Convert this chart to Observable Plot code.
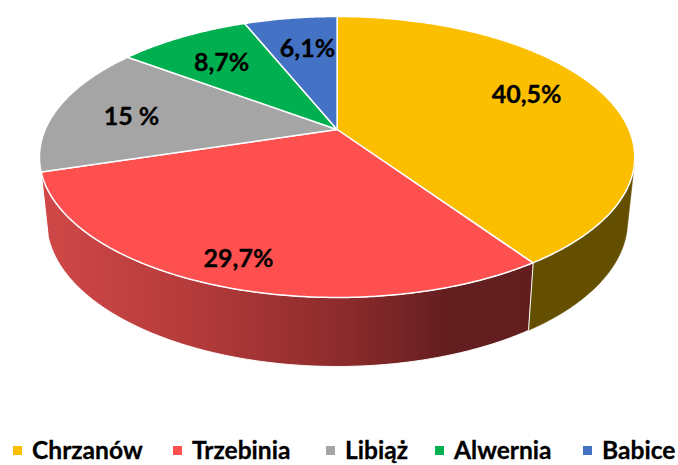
<!DOCTYPE html>
<html lang="pl">
<head>
<meta charset="utf-8">
<script src="https://cdn.jsdelivr.net/npm/d3@7"></script>
<script src="https://cdn.jsdelivr.net/npm/@observablehq/plot@0.6"></script>
<style>
  html, body { margin: 0; padding: 0; background: #fff; overflow: hidden; }
  svg { display: block; }
  #legend { position: relative; height: 30px; width: 678px; font: 700 24.6px/30px Lato, sans-serif; color: #000; white-space: nowrap; -webkit-text-stroke: 0.3px #000; }
  #legend .item { position: absolute; top: 0; display: flex; align-items: center; }
  #legend .swatch { width: 9px; height: 9px; margin-right: 10px; }
</style>
</head>
<body>
<div id="chart"></div>
<div id="legend"></div>
<script>
// Data
const names = ["Chrzanów", "Trzebinia", "Libiąż", "Alwernia", "Babice"];
const shares = [40.5, 29.7, 15, 8.7, 6.1];
const labels = ["40,5%", "29,7%", "15 %", "8,7%", "6,1%"];
const colors = ["#FBBF00", "#FF5050", "#A5A5A5", "#00B050", "#4472C4"];

// Layout (disc coordinates of the labels, perspective and legend placement)
const labelU = [0.685, -0.285, -0.719, -0.439, -0.115];
const labelV = [0.281, -0.799, 0.106, 0.558, 0.689];
const legendLeft = [13, 173, 326, 435, 583];
const persp = 0.1957, baseScaleX = 0.976, baseScaleY = 1.036, baseDrop = 0.466;
const wallStart = 105; // first visible degree of the side wall

const total = d3.sum(shares);
const ends = d3.cumsum(shares).map(d => d / total * 360);
const starts = [0, ...ends.slice(0, -1)];
const rad = d => d * Math.PI / 180;
const top3d = (u, v) => { const w = 1 + persp * v; return [u / w, v / w]; };
const base3d = (u, v) => { const [x, y] = top3d(u, v); return [x * baseScaleX, y * baseScaleY - baseDrop]; };
const onTop = a => top3d(Math.sin(rad(a)), Math.cos(rad(a)));
const onBase = a => base3d(Math.sin(rad(a)), Math.cos(rad(a)));
const arc = (a0, a1) => { const n = Math.max(2, Math.ceil((a1 - a0) / 0.5)); return d3.range(n + 1).map(i => a0 + (a1 - a0) * i / n); };

const slices = names.flatMap((name, i) => [
  [0, 0],
  ...arc(starts[i], ends[i]).map(onTop)
].map(([x, y]) => ({name, x, y})));

const wall = (id, a0, a1) => [
  ...arc(a0, a1).map(onTop),
  ...arc(a0, a1).reverse().map(onBase)
].map(([x, y]) => ({id, x, y}));
const wallYellow = wall("yellow", wallStart, ends[0]);
const wallRed = wall("red", ends[0], ends[1]);

const labelData = labels.map((text, i) => {
  const [x, y] = top3d(labelU[i], labelV[i]);
  return {text, x, y};
});

const gradient = () => {
  const ns = "http://www.w3.org/2000/svg";
  const defs = document.createElementNS(ns, "defs");
  const g = document.createElementNS(ns, "linearGradient");
  g.setAttribute("id", "redWall");
  g.setAttribute("x1", "1"); g.setAttribute("x2", "0");
  g.setAttribute("y1", "0"); g.setAttribute("y2", "0");
  for (const [o, c] of [[0, "#621d1f"], [0.17, "#631e20"], [0.37, "#8a2a2b"], [0.7, "#b63b3b"], [1, "#d04848"]]) {
    const s = document.createElementNS(ns, "stop");
    s.setAttribute("offset", o); s.setAttribute("stop-color", c);
    g.appendChild(s);
  }
  defs.appendChild(g);
  return defs;
};

const chart = Plot.plot({
  width: 678, height: 435,
  margin: 0,
  x: {domain: [-1, 1], range: [336.6 - 291.9, 336.6 + 291.9], axis: null},
  y: {domain: [-1, 1], range: [129 + 135.1, 129 - 135.1], axis: null},
  color: {domain: names, range: colors},
  style: {background: "#fff", overflow: "visible"},
  marks: [
    gradient,
    Plot.line(wallYellow, {x: "x", y: "y", fill: "#644e00", stroke: "#644e00", strokeWidth: 0.5, curve: "linear-closed"}),
    Plot.line(wallRed, {x: "x", y: "y", fill: "url(#redWall)", stroke: "#fff", strokeWidth: 1, curve: "linear-closed"}),
    Plot.line(slices, {x: "x", y: "y", z: "name", fill: "name", stroke: "#fff", strokeWidth: 1.5, strokeLinejoin: "round", curve: "linear-closed"}),
    Plot.text(labelData, {x: "x", y: "y", text: "text", dy: 1.5, fill: "#000", stroke: "#000", strokeWidth: 0.3, fontSize: 25, fontWeight: 700, fontFamily: "Lato"})
  ]
});
document.getElementById("chart").appendChild(chart);

const legend = d3.select("#legend");
names.forEach((name, i) => {
  const item = legend.append("div").attr("class", "item").style("left", legendLeft[i] + "px");
  item.append("span").attr("class", "swatch").style("background", colors[i]);
  item.append("span").text(name);
});
</script>
</body>
</html>
